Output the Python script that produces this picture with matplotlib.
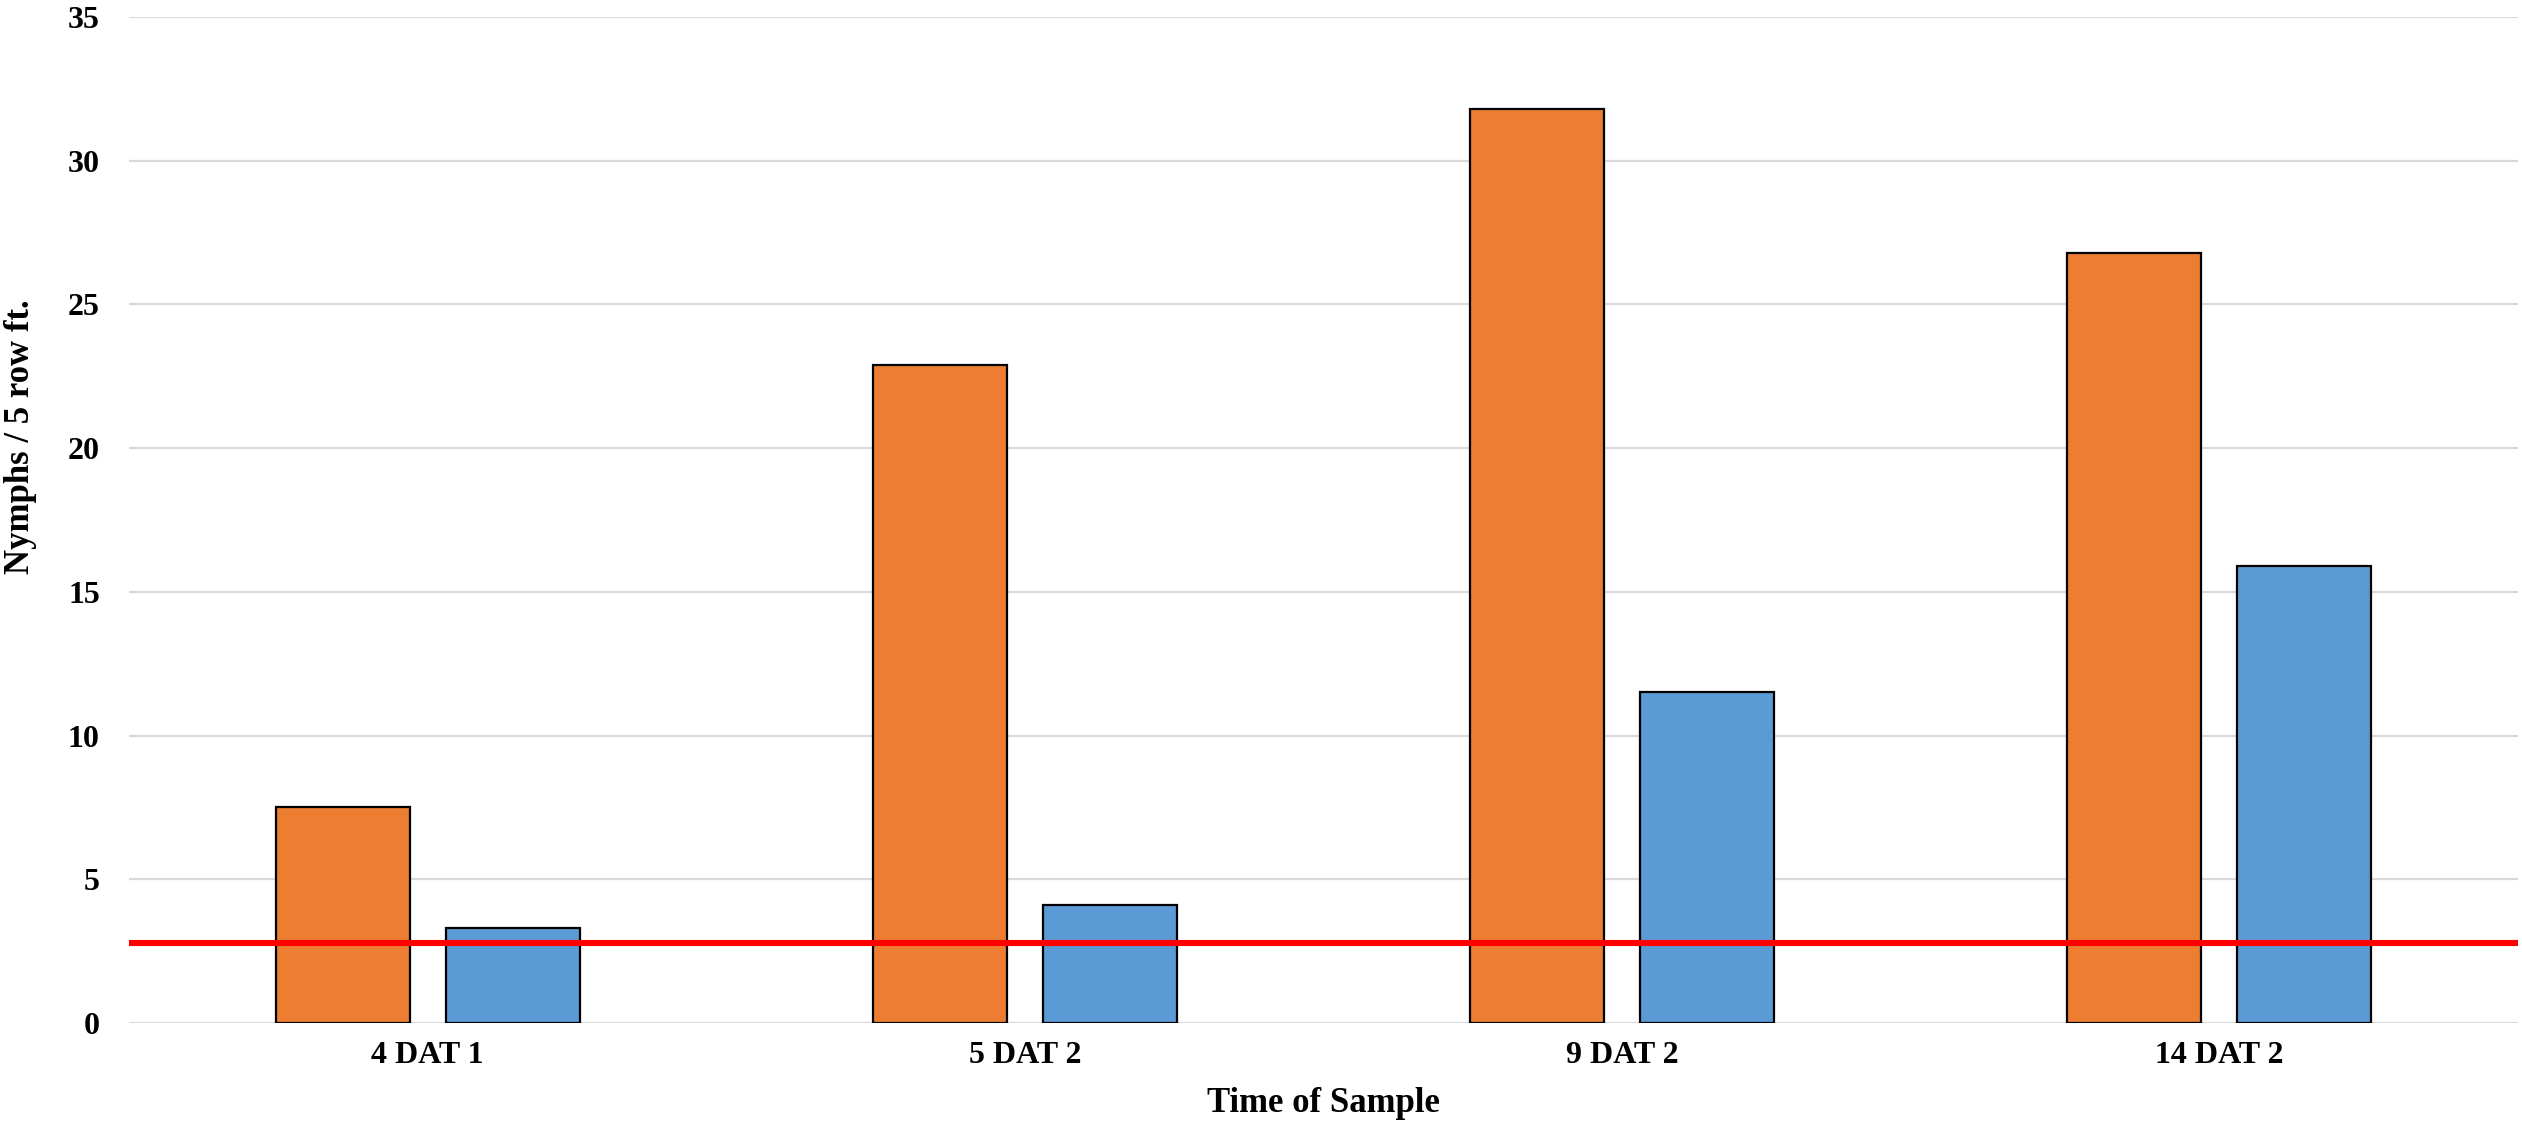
import matplotlib
matplotlib.use("Agg")
import matplotlib.pyplot as plt
import numpy as np

# data
categories = ["4 DAT 1", "5 DAT 2", "9 DAT 2", "14 DAT 2"]
orange_vals = [7.5, 22.9, 31.8, 26.8]
blue_vals = [3.3, 4.1, 11.5, 15.9]
threshold = 2.8
yticks = [0, 5, 10, 15, 20, 25, 30, 35]

plt.rcParams['font.family'] = ['Liberation Serif', 'DejaVu Serif']
plt.rcParams['font.weight'] = 'bold'

fig = plt.figure(figsize=(25.22, 11.31), dpi=100)
ax = fig.add_axes([0.05115, 0.09549, 0.94726, 0.88948])

x = np.arange(len(categories))
w = 0.2245
off = 0.1424
# balkyy
ax.bar(x - off, orange_vals, w, color="#ED7D31", edgecolor="black",
       linewidth=1.6, zorder=3)
ax.bar(x + off, blue_vals, w, color="#5B9BD5", edgecolor="black",
       linewidth=1.6, zorder=3)
# cervena hranica
ax.axhline(threshold, color="#FF0000", linewidth=4.4, zorder=4)

ax.set_xlim(-0.5, 3.5)
ax.set_ylim(0, 35)
ax.set_yticks(yticks)
ax.set_xticks(x)
ax.set_xticklabels(categories)

# mriezka
ax.yaxis.grid(True, color="#D9D9D9", linewidth=1.6, zorder=0)
ax.set_axisbelow(True)
for s in ax.spines.values():
    s.set_visible(False)
ax.tick_params(axis="both", length=0, labelsize=23)
ax.tick_params(axis="y", pad=21)
ax.tick_params(axis="x", pad=13)

ax.set_xlabel("Time of Sample", fontsize=25, fontweight="bold")
ax.set_ylabel("Nymphs / 5 row ft.", fontsize=25, fontweight="bold")
ax.xaxis.set_label_coords(0.5, -0.064)
ax.yaxis.set_label_coords(-0.0385, 0.583)

fig.savefig("out.png", dpi=100)
